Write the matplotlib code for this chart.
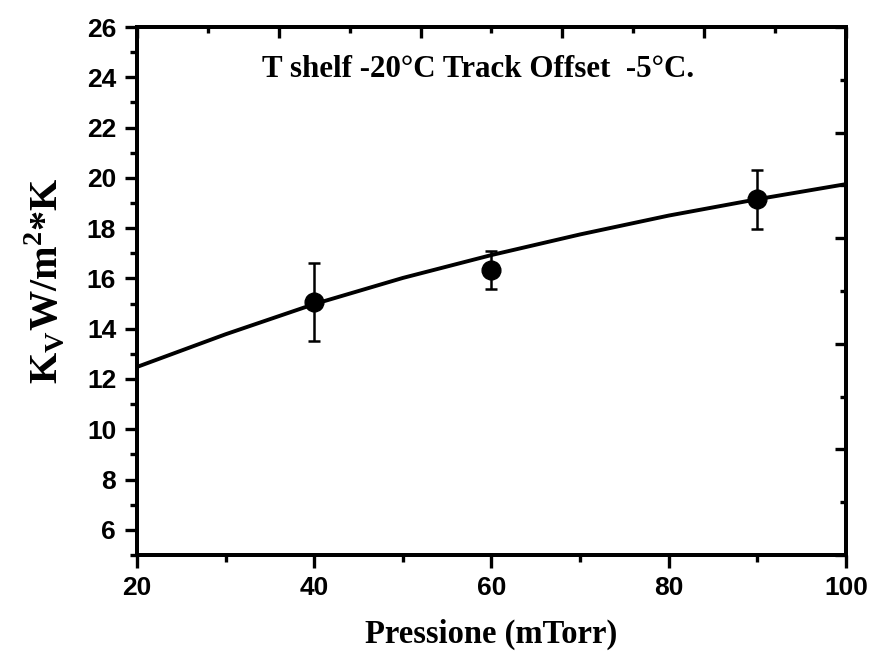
import matplotlib
matplotlib.use("Agg")
import matplotlib.pyplot as plt
import numpy as np
from matplotlib.ticker import MultipleLocator, FixedLocator

# misure Kv a diverse pressioni
pressione = [40, 60, 90]
kv = [15.07, 16.33, 19.15]
kv_err = [1.55, 0.77, 1.18]

p_fit = [20, 30, 40, 50, 60, 70, 80, 90, 100]
kv_fit = [12.48, 13.78, 14.98, 16.02, 16.93, 17.75, 18.50, 19.15, 19.75]

SERIF = "Liberation Serif"
SANS = "Liberation Sans"

plt.rcParams["mathtext.fontset"] = "custom"
plt.rcParams["mathtext.rm"] = "Liberation Serif:bold"

fig = plt.figure(figsize=(8.73, 6.54), dpi=100, facecolor="white")
ax = fig.add_axes([0.157, 0.1514, 0.812, 0.8073])

ax.plot(p_fit, kv_fit, color="black", linewidth=2.8, zorder=2)
ax.errorbar(pressione, kv, yerr=kv_err, fmt="o", color="black",
            markersize=13.5, elinewidth=1.8, capsize=4.5, capthick=1.8, zorder=3)

ax.set_xlim(20, 100)
ax.set_ylim(5, 26)

for s in ax.spines.values():
    s.set_linewidth(2.8)

ax.xaxis.set_major_locator(MultipleLocator(20))
ax.xaxis.set_minor_locator(MultipleLocator(10))
ax.yaxis.set_major_locator(FixedLocator(np.arange(6, 27, 2)))
ax.yaxis.set_minor_locator(MultipleLocator(1))
ax.tick_params(which="major", direction="out", length=9, width=2.4, pad=6,
               labelsize=19)
ax.tick_params(which="minor", direction="out", length=5, width=2.4)
ax.tick_params(top=False, right=False, which="both")
for lab in ax.get_xticklabels() + ax.get_yticklabels():
    lab.set_fontfamily(SANS)
    lab.set_fontweight("bold")

# assi superiore e destro con tacche interne
axt = ax.twiny()
axt.set_xlim(20, 100)
axt.xaxis.set_major_locator(FixedLocator(np.linspace(20, 100, 6)))
axt.xaxis.set_minor_locator(FixedLocator(np.linspace(28, 92, 5)))
axt.tick_params(which="major", direction="in", length=8, width=2.4, labeltop=False)
axt.tick_params(which="minor", direction="in", length=4.5, width=2.4)
axr = ax.twinx()
axr.set_ylim(5, 26)
axr.yaxis.set_major_locator(FixedLocator(np.linspace(5, 26, 6)))
axr.yaxis.set_minor_locator(FixedLocator(np.linspace(7.1, 23.9, 5)))
axr.tick_params(which="major", direction="in", length=8, width=2.4, labelright=False)
axr.tick_params(which="minor", direction="in", length=4.5, width=2.4)
for a in (axt, axr):
    for s in a.spines.values():
        s.set_linewidth(2.8)

ax.set_xlabel("Pressione (mTorr)", fontsize=23.5, fontweight="bold",
              fontfamily=SERIF, labelpad=14)
ax.set_ylabel(r"K$_\mathregular{V}$W/m$^\mathregular{2}$*K", fontsize=29,
              fontweight="bold", fontfamily=SERIF, labelpad=10)
ax.yaxis.set_label_coords(-0.1, 0.52)

ax.text(34.1, 24.0, "T shelf -20°C Track Offset  -5°C.", fontsize=22.3,
        fontweight="bold", fontfamily=SERIF, ha="left", va="baseline")

fig.savefig("out.png", dpi=100, facecolor="white")
